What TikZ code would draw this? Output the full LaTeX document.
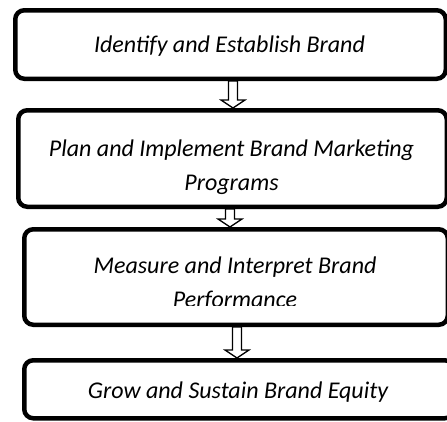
\documentclass[tikz,border=0pt]{standalone}
\usepackage{fontspec}
\setmainfont{Carlito}
\usetikzlibrary{calc}

\tikzset{
  stagebox/.style={draw, line width=4.5pt, rounded corners=9pt, fill=white,
    inner sep=0pt, anchor=north west},
  stagetext/.style={align=center, inner sep=0pt,
    font=\itshape\fontsize{24}{34}\selectfont},
}
% hollow block arrow from #1 (top) down to the y of #2
\newcommand{\blockarrow}[2]{%
  \draw[line width=1.3pt, fill=white] let \p1=(#1), \p2=(#2) in
    (\x1-4.5pt,\y1) -- (\x1-4.5pt,\y2+8pt) -- (\x1-12pt,\y2+8pt) -- (\x1,\y2)
    -- (\x1+12pt,\y2+8pt) -- (\x1+4.5pt,\y2+8pt) -- (\x1+4.5pt,\y1) -- cycle;}

\begin{document}
\begin{tikzpicture}[x=1pt,y=-1pt]
    \clip (0,0) rectangle (447,421);
    \fill[white] (0,0) rectangle (447,421);

    \node[stagebox, minimum width=430.5pt, minimum height=68.5pt] (identify) at (13,8) {};
    \node[stagebox, minimum width=428.5pt, minimum height=96.5pt] (plan) at (16,108) {};
    \node[stagebox, minimum width=423.5pt, minimum height=95.5pt] (measure) at (22,227) {};
    \node[stagebox, minimum width=429.5pt, minimum height=58pt] (grow) at (22,358) {};

    \node[stagetext] (identify-text) at ($(identify.center)+(-1,1.5)$)
        {Identify and Establish Brand};
    \node[stagetext] (plan-text) at ($(plan.center)+(-1,9)$)
        {Plan and Implement Brand Marketing\\Programs};
    \begin{scope}
        \clip (measure.north west) rectangle ($(measure.east)+(0,28)$);
        \node[stagetext] (measure-text) at ($(measure.center)+(-1,7)$)
            {Measure and Interpret Brand\\Performance};
    \end{scope}
    \node[stagetext] (grow-text) at ($(grow.center)+(-1,2.5)$)
        {Grow and Sustain Brand Equity};

    \coordinate (identify-out) at ($(identify.south)+(2.5,0)$);
    \coordinate (plan-out) at ($(plan.south)+(-2.5,0)$);
    \coordinate (measure-out) at ($(measure.south)+(1,0)$);

    \blockarrow{identify-out}{plan.north}
    \blockarrow{plan-out}{measure.north}
    \blockarrow{measure-out}{grow.north}
\end{tikzpicture}
\end{document}
